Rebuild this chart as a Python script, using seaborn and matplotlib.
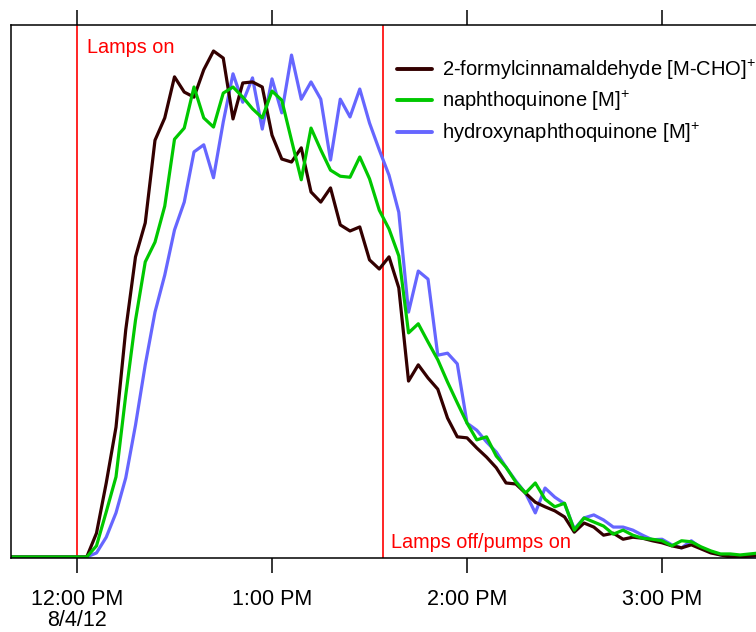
import matplotlib
matplotlib.use("Agg")
import matplotlib.pyplot as plt
import matplotlib.dates as mdates
import pandas as pd
import seaborn as sns

# Sampling: one point every 3 minutes, from 11:39 AM to 3:30 PM on 8/4/12
start_time = "2012-08-04 11:39"
n_points = 78

# Normalised ion signal (peak of 2-formylcinnamaldehyde = 1)
formylcinnamaldehyde = [
    0.002, 0.002, 0.002, 0.002, 0.002, 0.002, 0.002, 0.002,
    0.002, 0.049, 0.148, 0.258, 0.450, 0.594, 0.661, 0.824, 0.868, 0.949,
    0.919, 0.909, 0.963, 1.000, 0.986, 0.866, 0.937, 0.939, 0.929, 0.834,
    0.787, 0.781, 0.809, 0.722, 0.702, 0.730, 0.657, 0.645, 0.653, 0.588,
    0.570, 0.594, 0.533, 0.349, 0.381, 0.355, 0.333, 0.276, 0.239, 0.237,
    0.217, 0.199, 0.178, 0.148, 0.146, 0.128, 0.110, 0.101, 0.093, 0.081,
    0.051, 0.069, 0.061, 0.045, 0.049, 0.037, 0.041, 0.039, 0.034, 0.030,
    0.024, 0.020, 0.026, 0.018, 0.010, 0.006, 0.002, 0.002, 0.004, 0.006,
]
naphthoquinone = [
    0.002, 0.002, 0.002, 0.002, 0.002, 0.002, 0.002, 0.002,
    0.002, 0.024, 0.091, 0.160, 0.321, 0.469, 0.584, 0.623, 0.694, 0.826,
    0.848, 0.929, 0.868, 0.850, 0.917, 0.929, 0.909, 0.886, 0.868, 0.921,
    0.903, 0.824, 0.746, 0.848, 0.805, 0.765, 0.753, 0.751, 0.791, 0.748,
    0.686, 0.649, 0.596, 0.444, 0.462, 0.426, 0.391, 0.347, 0.306, 0.266,
    0.233, 0.239, 0.201, 0.179, 0.150, 0.128, 0.148, 0.116, 0.101, 0.108,
    0.055, 0.079, 0.071, 0.063, 0.047, 0.055, 0.045, 0.039, 0.037, 0.034,
    0.024, 0.034, 0.032, 0.022, 0.014, 0.008, 0.008, 0.006, 0.008, 0.010,
]
hydroxynaphthoquinone = [
    0.002, 0.002, 0.002, 0.002, 0.002, 0.002, 0.002, 0.002,
    0.002, 0.010, 0.041, 0.089, 0.158, 0.262, 0.381, 0.485, 0.558, 0.647,
    0.702, 0.801, 0.815, 0.750, 0.860, 0.955, 0.899, 0.947, 0.846, 0.945,
    0.878, 0.992, 0.905, 0.939, 0.905, 0.785, 0.905, 0.870, 0.925, 0.858,
    0.805, 0.755, 0.682, 0.485, 0.566, 0.550, 0.400, 0.404, 0.383, 0.266,
    0.252, 0.229, 0.209, 0.179, 0.152, 0.128, 0.089, 0.138, 0.120, 0.107,
    0.057, 0.079, 0.085, 0.075, 0.061, 0.061, 0.055, 0.045, 0.036, 0.037,
    0.026, 0.020, 0.034, 0.020, 0.012, 0.006, 0.004, 0.000, 0.002, 0.002,
]

series_labels = [
    "2-formylcinnamaldehyde [M-CHO]$^{+}$",
    "naphthoquinone [M]$^{+}$",
    "hydroxynaphthoquinone [M]$^{+}$",
]
series_colors = ["#330000", "#00C800", "#6666FF"]

tick_times = ["2012-08-04 12:00", "2012-08-04 13:00", "2012-08-04 14:00", "2012-08-04 15:00"]
tick_labels = ["12:00 PM\n8/4/12", "1:00 PM", "2:00 PM", "3:00 PM"]

lamps_on = "2012-08-04 12:00"
lamps_off = "2012-08-04 13:34"

times = pd.date_range(start_time, periods=n_points, freq="3min")
frames = []
for label, values in zip(series_labels, [formylcinnamaldehyde, naphthoquinone, hydroxynaphthoquinone]):
    frames.append(pd.DataFrame({"time": times, "signal": values, "species": label}))
df = pd.concat(frames, ignore_index=True)

sns.set_style("white")
plt.rcParams["font.family"] = ["Liberation Sans", "DejaVu Sans"]
plt.rcParams["mathtext.fontset"] = "custom"
plt.rcParams["mathtext.rm"] = "Liberation Sans"
plt.rcParams["mathtext.it"] = "Liberation Sans"
plt.rcParams["mathtext.bf"] = "Liberation Sans:bold"
plt.rcParams["text.color"] = "black"
plt.rcParams["xtick.color"] = "black"
plt.rcParams["xtick.labelcolor"] = "black"
plt.rcParams["axes.edgecolor"] = "black"

fig = plt.figure(figsize=(7.56, 6.32), dpi=100)
ax = fig.add_axes([11 / 756, 74 / 632, 745 / 756, 533 / 632])

palette = dict(zip(series_labels, series_colors))
# draw blue first, then dark brown, green on top
draw_order = [series_labels[2], series_labels[0], series_labels[1]]
for lab in draw_order:
    sns.lineplot(data=df[df["species"] == lab], x="time", y="signal",
                 color=palette[lab], linewidth=2.3, ax=ax, label=lab,
                 legend=False)

ax.axvline(pd.Timestamp(lamps_on), color="#FF0000", linewidth=1.2, zorder=1)
ax.axvline(pd.Timestamp(lamps_off), color="#FF0000", linewidth=1.2, zorder=1)

ax.text(pd.Timestamp("2012-08-04 12:03"), 1.006, "Lamps on", color="#FF0000",
        fontsize=14.3, va="center", ha="left")
ax.text(pd.Timestamp("2012-08-04 13:36:30"), 0.012, "Lamps off/pumps on", color="#FF0000",
        fontsize=14.3, va="bottom", ha="left")

x_left = pd.Timestamp("2012-08-04 11:39:42")
x_right = pd.Timestamp("2012-08-04 15:28:54")
ax.set_xlim(x_left, x_right)
ax.set_ylim(0, 1.0513)

ax.set_xticks([mdates.date2num(pd.Timestamp(t)) for t in tick_times])
ax.set_xticklabels(tick_labels, fontsize=15.5, linespacing=1.0, color="black")
ax.set_yticks([])
ax.set_xlabel("")
ax.set_ylabel("")

ax.tick_params(axis="x", which="both", direction="out", length=10.5, width=1.1,
               top=True, bottom=True, labeltop=False, pad=12, color="black")
for side in ["left", "top", "bottom"]:
    ax.spines[side].set_color("black")
    ax.spines[side].set_linewidth(1.1)
ax.spines["right"].set_visible(False)

handles = {l.get_label(): l for l in ax.get_lines() if l.get_label() in series_labels}
leg = ax.legend([handles[l] for l in series_labels], series_labels,
                loc="upper left", bbox_to_anchor=(386 / 745, 1 - 33 / 533),
                frameon=False, fontsize=14.5, handlelength=1.75,
                handletextpad=0.5, labelspacing=0.36, borderpad=0,
                borderaxespad=0)
for text in leg.get_texts():
    text.set_color("black")
for line in leg.get_lines():
    line.set_linewidth(2.8)

fig.savefig("out.png", dpi=100)
